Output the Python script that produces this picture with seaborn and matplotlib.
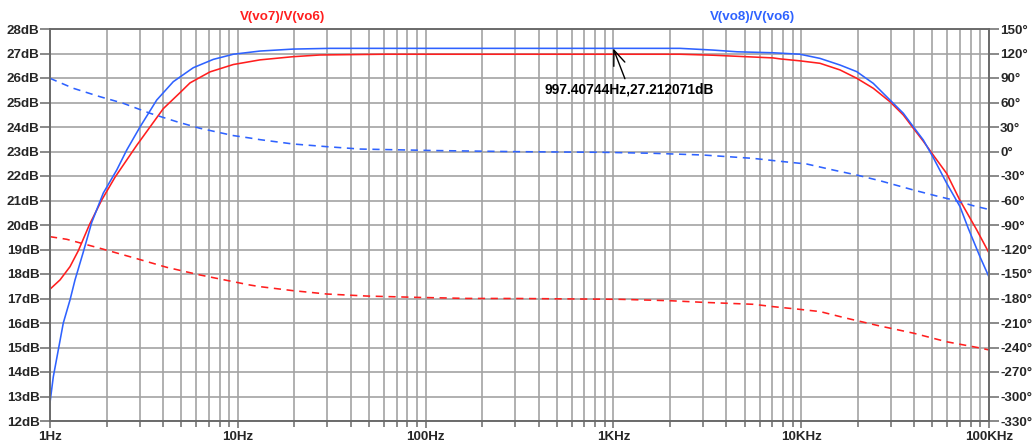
import matplotlib
matplotlib.use("Agg")
import matplotlib.pyplot as plt
import seaborn as sns
from matplotlib.ticker import FixedLocator, FixedFormatter, NullFormatter

# --- V(vo7)/V(vo6): magnitude (dB) and phase (deg) ---
vo7_mag_hz = [1.0, 1.131, 1.278, 1.415, 1.619, 1.885, 2.219, 2.667, 2.895, 4.012, 4.922,
              5.565, 7.112, 9.463, 13.13, 19.68, 27.40, 60, 1000, 2262, 3391, 7077, 7713,
              9854, 12593, 16089, 19748, 24206, 29712, 34977, 39540, 44690, 50510, 59550,
              70080, 86030, 100000]
vo7_mag_db = [17.38, 17.76, 18.3, 18.95, 20.0, 21.02, 21.95, 22.85, 23.25, 24.75, 25.4,
              25.8, 26.25, 26.55, 26.74, 26.87, 26.94, 26.97, 26.97, 26.97, 26.93, 26.82, 26.78,
              26.7, 26.6, 26.33, 25.99, 25.58, 25.03, 24.49, 23.95, 23.42, 22.85, 22.1,
              21.0, 19.8, 18.86]
vo7_ph_hz = [1.0, 1.227, 1.846, 2.777, 4.182, 6.291, 9.463, 11.61, 13.13, 19.68, 29.75, 48.58,
             89.67, 165.5, 318.1, 1084, 2002, 3011, 5558, 7103, 9462, 12593, 17470, 26285,
             39540, 59550, 89570, 100000]
vo7_ph_deg = [-104.3, -107.5, -118.5, -130, -141.8, -151.2, -159.4, -163.5, -165.5, -170.4,
              -174.5, -177, -178.6, -179.9, -180, -181, -182.7, -184.7, -187.1, -190, -192.9,
              -196, -204.2, -213.7, -222.4, -233, -240.6, -243]

# --- V(vo8)/V(vo6): magnitude (dB) and phase (deg) ---
vo8_mag_hz = [1.0, 1.041, 1.107, 1.177, 1.278, 1.359, 1.498, 1.667, 1.921, 2.265, 2.562,
              3.014, 3.700, 4.534, 5.794, 7.405, 9.463, 13.13, 19.68, 30.97, 2262, 3391,
              4550, 7077, 9854, 12593, 16089, 19748, 24206, 29712, 34977, 39540, 44690,
              50510, 59550, 70080, 77590, 89570, 100000]
vo8_mag_db = [12.75, 13.8, 14.9, 16.0, 16.94, 17.76, 18.85, 20.1, 21.3, 22.24, 23.06,
              24.0, 25.1, 25.85, 26.42, 26.76, 26.97, 27.1, 27.18, 27.21, 27.21, 27.14,
              27.07, 27.03, 26.97, 26.8, 26.53, 26.26, 25.78, 25.1, 24.56, 24.01, 23.47,
              22.75, 21.7, 20.75, 19.86, 18.7, 17.88]
vo8_ph_hz = [1.0, 1.331, 1.846, 2.457, 3.409, 4.728, 6.291, 9.463, 11.61, 13.13, 19.68,
             29.85, 44.74, 109.5, 306.7, 880.4, 1625, 3001, 5538, 7713, 10698, 14825,
             19748, 26285, 39540, 52660, 64540, 82500, 100000]
vo8_ph_deg = [89.6, 77.4, 67.1, 59.0, 46.8, 36.5, 28.4, 19.5, 16.5, 14.5, 9.2,
              5.9, 3.0, 1.2, -0.2, -1, -2.2, -4.3, -8.4, -12.0, -15.3, -22.7,
              -28.8, -35.8, -47.1, -54.5, -59.4, -66.4, -71]

# Axis ticks and labels
freq_ticks = [1, 10, 100, 1e3, 1e4, 1e5]
freq_labels = ["1Hz", "10Hz", "100Hz", "1KHz", "10KHz", "100KHz"]
db_ticks = list(range(12, 29))
deg_ticks = list(range(-330, 151, 30))

# Cursor readout
cursor_hz = 997.40744
cursor_db = 27.212071

RED = "#ff1e1e"
BLUE = "#2e62ff"
GRID = "#a3a3a3"
FRAME = "#6a6a6a"

sns.set_style("white")
plt.rcParams["font.family"] = ["Liberation Sans", "DejaVu Sans"]
plt.rcParams["font.weight"] = "bold"

fig = plt.figure(figsize=(10.32, 4.47), dpi=100)
ax = fig.add_axes([50 / 1032, 26 / 447, 939 / 1032, 392 / 447])
ax.set_xscale("log")
ax.set_xlim(1, 1e5)
ax.set_ylim(12, 28)

ax2 = ax.twinx()
ax2.set_ylim(-330, 150)

lw = 1.15
dash = (0, (4.5, 3.5))
sns.lineplot(x=vo7_mag_hz, y=vo7_mag_db, ax=ax, color=RED, linewidth=lw,
             estimator=None, sort=False, legend=False)
sns.lineplot(x=vo8_mag_hz, y=vo8_mag_db, ax=ax, color=BLUE, linewidth=lw,
             estimator=None, sort=False, legend=False)
sns.lineplot(x=vo7_ph_hz, y=vo7_ph_deg, ax=ax2, color=RED, linewidth=lw,
             linestyle=dash, estimator=None, sort=False, legend=False)
sns.lineplot(x=vo8_ph_hz, y=vo8_ph_deg, ax=ax2, color=BLUE, linewidth=lw,
             linestyle=dash, estimator=None, sort=False, legend=False)

# Grid: one line for every 1..9 step per decade, every dB step
minor_x = [m * 10 ** d for d in range(0, 5) for m in range(2, 10)]
ax.xaxis.set_major_locator(FixedLocator(freq_ticks))
ax.xaxis.set_major_formatter(FixedFormatter(freq_labels))
ax.xaxis.set_minor_locator(FixedLocator(minor_x))
ax.xaxis.set_minor_formatter(NullFormatter())
ax.yaxis.set_major_locator(FixedLocator(db_ticks))
ax.set_yticklabels([f"{v}dB" for v in db_ticks])
ax2.yaxis.set_major_locator(FixedLocator(deg_ticks))
ax2.set_yticklabels([f"{v}°" for v in deg_ticks])
ax.grid(which="both", color=GRID, linewidth=1.2)
ax2.grid(False)
ax.set_axisbelow(True)
ax.set_xlabel("")
ax.set_ylabel("")
ax2.set_ylabel("")

for a in (ax, ax2):
    for s in a.spines.values():
        s.set_color(FRAME)
        s.set_linewidth(1.2)

fs = 9.6
ax.tick_params(axis="y", which="major", direction="out", length=7, width=1.1,
               color=FRAME, labelsize=fs, pad=0.5, left=True)
ax.tick_params(axis="x", which="major", direction="out", length=5, width=1.1,
               color=FRAME, labelsize=fs, pad=2, bottom=True)
ax.tick_params(axis="x", which="minor", direction="out", length=4, width=1.1,
               color=FRAME, bottom=True)
ax2.tick_params(axis="y", which="major", direction="out", length=7, width=1.1,
                color=FRAME, labelsize=fs, pad=1, right=True)
for lab in ax.get_xticklabels() + ax.get_yticklabels() + ax2.get_yticklabels():
    lab.set_fontweight("bold")

# Trace names
fig.text(283 / 1032, 1 - 17 / 447, "V(vo7)/V(vo6)", color=RED, ha="center",
         va="center", fontsize=fs, fontweight="bold")
fig.text(752 / 1032, 1 - 17 / 447, "V(vo8)/V(vo6)", color=BLUE, ha="center",
         va="center", fontsize=fs, fontweight="bold")

# Cursor annotation
ax2.annotate(f"{cursor_hz:.5f}Hz,{cursor_db:.6f}dB",
             xy=(cursor_hz, cursor_db), xycoords=ax.transData,
             xytext=(15.7, -40.7), textcoords="offset pixels",
             ha="center", va="center", fontsize=9.9, fontweight="bold", color="black",
             arrowprops=dict(arrowstyle="->,head_length=1.1,head_width=0.43",
                             color="black", linewidth=1.0, shrinkA=0, shrinkB=0))

fig.savefig("out.png", dpi=100, facecolor="white")
